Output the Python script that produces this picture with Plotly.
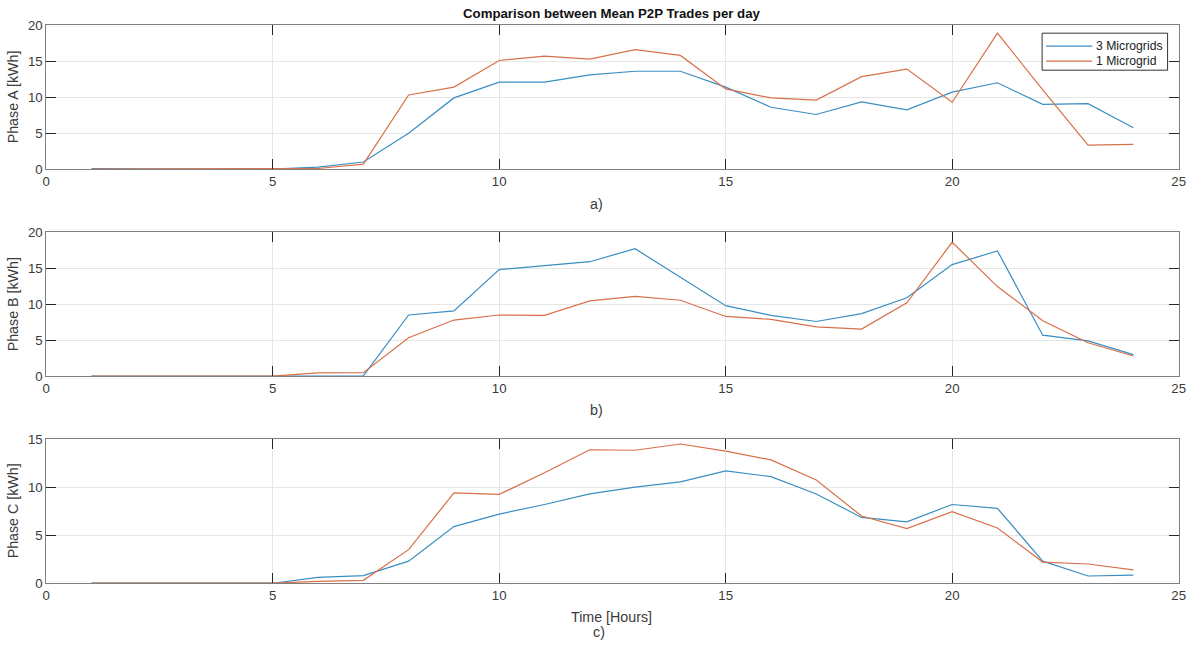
import plotly.graph_objects as go

# ---- data ----
hours = list(range(1, 25))

phase_a_3mg = [0.1, 0.0, 0.0, 0.0, 0.0, 0.3, 1.0, 5.0, 9.9, 12.1, 12.1, 13.1,
               13.6, 13.6, 11.4, 8.6, 7.6, 9.35, 8.25, 10.7, 12.0, 9.0, 9.1, 5.75]
phase_a_1mg = [0.0, 0.0, 0.0, 0.0, 0.0, 0.1, 0.7, 10.3, 11.4, 15.1, 15.7, 15.3,
               16.6, 15.8, 11.15, 9.9, 9.6, 12.85, 13.9, 9.3, 18.9, 11.0, 3.35, 3.45]

phase_b_3mg = [0.0, 0.0, 0.0, 0.0, 0.0, 0.0, 0.05, 8.5, 9.07, 14.8, 15.3, 15.9,
               17.7, 13.7, 9.8, 8.45, 7.6, 8.7, 10.9, 15.5, 17.4, 5.7, 4.9, 3.0]
phase_b_1mg = [0.0, 0.0, 0.0, 0.0, 0.0, 0.45, 0.5, 5.35, 7.8, 8.5, 8.45, 10.45,
               11.1, 10.55, 8.3, 7.9, 6.85, 6.55, 10.2, 18.6, 12.45, 7.7, 4.65, 2.8]

phase_c_3mg = [0.0, 0.0, 0.0, 0.0, 0.0, 0.6, 0.8, 2.3, 5.9, 7.2, 8.2, 9.3,
               10.0, 10.55, 11.7, 11.1, 9.3, 6.85, 6.4, 8.2, 7.8, 2.3, 0.75, 0.85]
phase_c_1mg = [0.0, 0.0, 0.0, 0.0, 0.0, 0.2, 0.3, 3.5, 9.4, 9.25, 11.5, 13.9,
               13.85, 14.5, 13.75, 12.85, 10.75, 7.0, 5.7, 7.45, 5.75, 2.2, 2.0, 1.4]

series_names = ["3 Microgrids", "1 Microgrid"]
panel_labels = ["a)", "b)", "c)"]
y_titles = ["Phase A [kWh]", "Phase B [kWh]", "Phase C [kWh]"]
y_ranges = [[0, 20], [0, 20], [0, 15]]
x_ticks = [0, 5, 10, 15, 20, 25]

# ---- page-to-picture calibration (page body margin + capture scale) ----
OFF = 8
SX, SY = 0.987, 0.977
W, H = 1198, 654                      # figure size in CSS px

def fx(p):                            # picture px -> figure px
    return p / SX - OFF

def fy(p):
    return p / SY - OFF

def px_x(p):                          # picture px -> paper fraction
    return fx(p) / W

def px_y(p):
    return 1 - fy(p) / H

def fs(v):
    return round(v / ((SX + SY) / 2), 2)

BLUE = "#3A8EC2"
ORANGE = "#D8704A"
FONT = "Liberation Sans, Arial, Helvetica, sans-serif"
TXT = "#3a3a3a"

panels = [  # (top px, bottom px) in picture pixels
    (26, 170),
    (233, 377),
    (440, 584),
]
x_left, x_right = 50, 1178

data = [
    (phase_a_3mg, phase_a_1mg),
    (phase_b_3mg, phase_b_1mg),
    (phase_c_3mg, phase_c_1mg),
]
colors = [BLUE, ORANGE]

fig = go.Figure()
for i, pair in enumerate(data):
    xa = "x" if i == 0 else f"x{i+1}"
    ya = "y" if i == 0 else f"y{i+1}"
    for s, vals in enumerate(pair):
        fig.add_trace(go.Scatter(x=hours, y=vals, mode="lines", name=series_names[s],
                                 line=dict(color=colors[s], width=1.2),
                                 xaxis=xa, yaxis=ya, showlegend=False))

layout = dict(
    width=W, height=H,
    margin=dict(l=0, r=0, t=0, b=0),
    paper_bgcolor="white", plot_bgcolor="white",
    font=dict(family=FONT, size=fs(13), color=TXT),
    showlegend=False,
)

annotations = []
for i, (top, bot) in enumerate(panels):
    sfx = "" if i == 0 else str(i + 1)
    common_axis = dict(showline=True, mirror="ticks", linecolor="#808080", linewidth=1,
                       ticks="inside", ticklen=10, tickwidth=1, tickcolor="#262626",
                       showgrid=True, gridcolor="#e6e6e6", gridwidth=1, zeroline=False,
                       tickfont=dict(size=fs(13), color=TXT))
    layout["xaxis" + sfx] = dict(common_axis, domain=[px_x(x_left), px_x(x_right)],
                                 range=[0, 25], tickvals=x_ticks,
                                 anchor="y" + sfx)
    layout["yaxis" + sfx] = dict(common_axis, domain=[px_y(bot), px_y(top)],
                                 range=y_ranges[i], dtick=5,
                                 anchor="x" + sfx)
    annotations.append(dict(text=y_titles[i], x=px_x(17), y=px_y((top + bot) / 2),
                            xref="paper", yref="paper", showarrow=False, textangle=-90,
                            font=dict(size=fs(14), color=TXT), xanchor="center", yanchor="middle"))

def label(text, xp, yp, size=14, color=TXT, xanchor="center"):
    return dict(text=text, x=px_x(xp), y=px_y(yp), xref="paper", yref="paper",
                showarrow=False, xanchor=xanchor, yanchor="middle",
                font=dict(size=fs(size), color=color))

annotations.append(label(panel_labels[0], 598, 205))
annotations.append(label(panel_labels[1], 598, 411))
annotations.append(label("Time [Hours]", 613, 618))
annotations.append(label(panel_labels[2], 601, 633))
annotations.append(label("<b>Comparison between Mean P2P Trades per day</b>", 614, 14,
                         size=13, color="#111111"))

# legend box in the style of the original
shapes = [dict(type="rect", xref="paper", yref="paper",
               x0=px_x(1042), x1=px_x(1167), y0=px_y(71), y1=px_y(34),
               line=dict(color="#333333", width=1), fillcolor="white", layer="above")]
for s, yy in enumerate([47, 62]):
    shapes.append(dict(type="line", xref="paper", yref="paper",
                       x0=px_x(1046), x1=px_x(1092), y0=px_y(yy), y1=px_y(yy),
                       line=dict(color=colors[s], width=1.2), layer="above"))
    annotations.append(label(series_names[s], 1094, yy, size=12, color="#222222",
                             xanchor="left"))

layout["annotations"] = annotations
layout["shapes"] = shapes

fig.update_layout(**layout)
fig.write_html("out.html")
